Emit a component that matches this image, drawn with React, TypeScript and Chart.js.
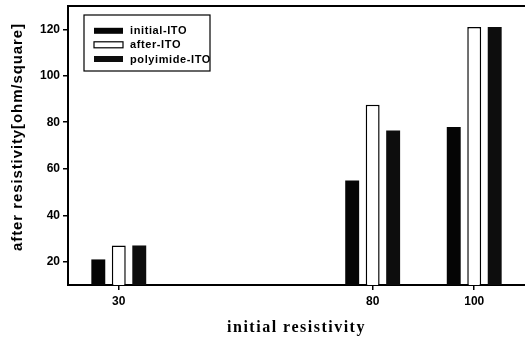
import React, { useEffect, useRef } from "react";
import { Chart, registerables } from "chart.js";

Chart.register(...registerables);

const categories = [30, 80, 100];
const initialITO = [21, 55, 78];
const afterITO = [27, 87.5, 121];
const polyimideITO = [27, 76.5, 121];
const yTicks = [20, 40, 60, 80, 100, 120];
const seriesLabels = ["initial-ITO", "after-ITO", "polyimide-ITO"];
const xTitle = "initial resistivity";
const yTitle = "after resistivity[ohm/square]";

const toPoints = (vals: number[]) => categories.map((c, i) => ({ x: c, y: vals[i] }));

const decorPlugin = {
  id: "decor",
  afterDraw(chart: any) {
    const { ctx, chartArea } = chart;
    const { left, right, top } = chartArea;
    ctx.save();
    // top frame line
    ctx.strokeStyle = "#000";
    ctx.lineWidth = 2;
    ctx.beginPath();
    ctx.moveTo(left - 1, top);
    ctx.lineTo(right, top);
    ctx.stroke();

    // x title
    ctx.fillStyle = "#000";
    ctx.font = "bold 16px 'Liberation Serif'";
    (ctx as any).letterSpacing = "1.5px";
    ctx.textAlign = "center";
    ctx.textBaseline = "middle";
    ctx.fillText(xTitle, (left + right) / 2, 328);

    // y title
    ctx.save();
    ctx.translate(18, 137);
    ctx.rotate(-Math.PI / 2);
    ctx.font = "bold 15px 'Liberation Sans'";
    (ctx as any).letterSpacing = "0.9px";
    ctx.fillText(yTitle, 0, 0);
    ctx.restore();

    // legend
    const bx = 84, by = 15, bw = 126, bh = 56;
    ctx.lineWidth = 1.2;
    ctx.strokeStyle = "#000";
    ctx.fillStyle = "#fff";
    ctx.fillRect(bx, by, bw, bh);
    ctx.strokeRect(bx, by, bw, bh);
    const rows = [30.8, 44.8, 59];
    chart.data.datasets.forEach((ds: any, i: number) => {
      const y = rows[i];
      ctx.fillStyle = ds.backgroundColor;
      ctx.fillRect(94, y - 3, 29, 6);
      if (ds.borderWidth) {
        ctx.strokeStyle = "#000";
        ctx.lineWidth = 1.2;
        ctx.strokeRect(94, y - 3, 29, 6);
      }
      ctx.fillStyle = "#000";
      ctx.font = "bold 11px 'Liberation Sans'";
      (ctx as any).letterSpacing = "0.6px";
      ctx.textAlign = "left";
      ctx.textBaseline = "middle";
      ctx.fillText(ds.label, 130, y + 0.5);
    });
    ctx.restore();
  },
};

export default function App() {
  const ref = useRef<HTMLCanvasElement>(null);
  useEffect(() => {
    if (!ref.current) return;
    const chart = new Chart(ref.current, {
      type: "bar",
      data: {
        datasets: [
          {
            label: seriesLabels[0],
            data: toPoints(initialITO) as any,
            backgroundColor: "#050505",
            borderWidth: 0,
          },
          {
            label: seriesLabels[1],
            data: toPoints(afterITO) as any,
            backgroundColor: "#ffffff",
            borderColor: "#000",
            borderWidth: 1.5,
          },
          {
            label: seriesLabels[2],
            data: toPoints(polyimideITO) as any,
            backgroundColor: "#0d0d0d",
            borderWidth: 0,
          },
        ],
      },
      options: {
        animation: false,
        responsive: false,
        maintainAspectRatio: false,
        devicePixelRatio: 1,
        categoryPercentage: 0.605,
        barPercentage: 0.68,
        layout: { padding: { top: 6, right: 0, left: 0, bottom: 0 } },
        plugins: { legend: { display: false }, tooltip: { enabled: false } },
        scales: {
          x: {
            type: "linear",
            min: 20,
            max: 110,
            offset: false,
            afterBuildTicks: (s: any) => {
              s.ticks = categories.map((v) => ({ value: v }));
            },
            afterFit: (s: any) => {
              s.height = 54;
              s.paddingLeft = 0;
              s.paddingRight = 0;
            },
            grid: { display: true, offset: false, drawOnChartArea: false, drawTicks: true, tickLength: 5, color: "#000", lineWidth: 1.5 },
            border: { display: true, color: "#000", width: 2 },
            ticks: {
              color: "#000",
              padding: 4,
              maxRotation: 0,
              font: { family: "'Liberation Sans'", weight: "bold", size: 12 },
            },
          },
          y: {
            type: "linear",
            min: 10,
            max: 130,
            afterBuildTicks: (s: any) => {
              s.ticks = yTicks.map((v) => ({ value: v }));
            },
            afterFit: (s: any) => {
              s.width = 68;
              s.paddingTop = 0;
              s.paddingBottom = 0;
            },
            grid: { display: true, drawOnChartArea: false, drawTicks: true, tickLength: 5, color: "#000", lineWidth: 1.5 },
            border: { display: true, color: "#000", width: 2 },
            ticks: {
              color: "#000",
              padding: 3,
              font: { family: "'Liberation Sans'", weight: "bold", size: 12 },
            },
          },
        },
      } as any,
      plugins: [decorPlugin],
    });
    return () => chart.destroy();
  }, []);
  return (
    <div style={{ position: "fixed", left: 0, top: 0, width: 525, height: 339, background: "#fff", overflow: "hidden" }}>
      <canvas ref={ref} width={525} height={339} style={{ width: 525, height: 339, display: "block" }} />
    </div>
  );
}
